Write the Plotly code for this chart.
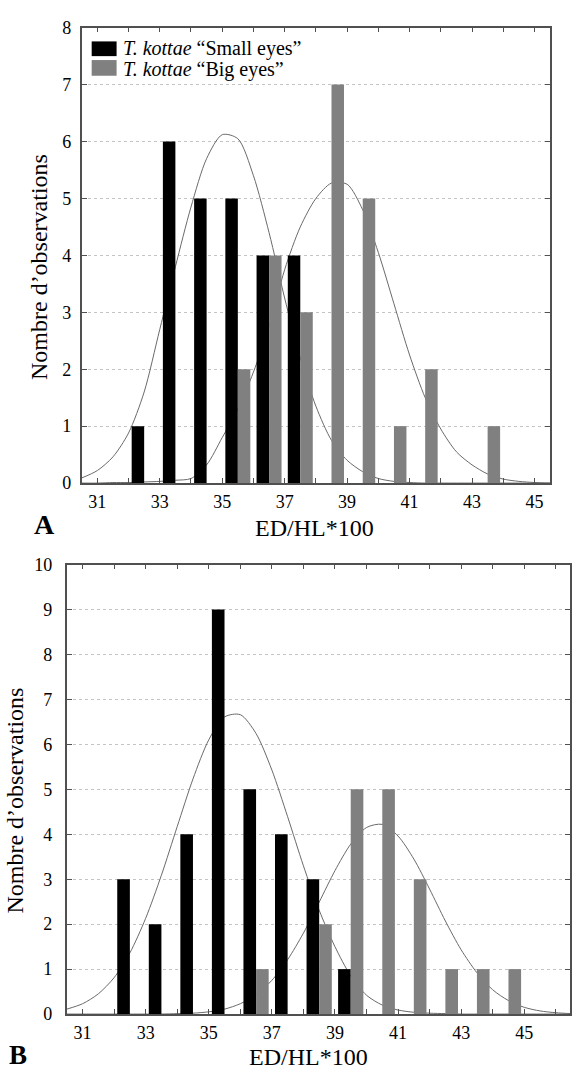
import plotly.graph_objects as go

# ---------------- data ----------------
A_bins = [32.5, 33.5, 34.5, 35.5, 36.5, 37.5, 38.5, 39.5, 40.5, 41.5, 42.5, 43.5]
A_small = [1, 6, 5, 5, 4, 4, 0, 0, 0, 0, 0, 0]
A_big = [0, 0, 0, 2, 4, 3, 7, 5, 1, 2, 0, 1]

B_bins = [32.5, 33.5, 34.5, 35.5, 36.5, 37.5, 38.5, 39.5, 40.5, 41.5, 42.5, 43.5, 44.5]
B_small = [3, 2, 4, 9, 5, 4, 3, 1, 0, 0, 0, 0, 0]
B_big = [0, 0, 0, 0, 1, 0, 2, 5, 5, 3, 1, 1, 1]

# fitted curves
A_curve_x = [30.5, 31, 31.5, 32, 32.5, 33, 33.5, 34, 34.5, 35, 35.5, 36, 36.5, 37, 37.5,
             38, 38.5, 39, 39.5, 40, 40.5, 41, 41.5, 42, 42.5, 43, 43.5, 44, 44.5, 45, 45.5]
A_small_curve = [0.09, 0.22, 0.46, 0.88, 1.6, 2.7, 3.8, 4.85, 5.7, 6.12, 6.05, 5.4, 4.4, 3.25, 2.2,
                 1.35, 0.75, 0.4, 0.2, 0.08, 0.03, 0.01, 0, 0, 0, 0, 0, 0, 0, 0, 0]
A_big_curve = [0, 0, 0.01, 0.01, 0.02, 0.03, 0.05, 0.08, 0.32, 0.8, 1.3, 1.95, 2.75, 3.75, 4.5,
               5.0, 5.27, 5.25, 4.8, 4.05, 3.15, 2.25, 1.5, 0.95, 0.55, 0.32, 0.16, 0.07, 0.03, 0.01, 0]

B_curve_x = [30.5, 31, 31.5, 32, 32.5, 33, 33.5, 34, 34.5, 35, 35.5, 36, 36.5, 37, 37.5, 38, 38.5,
             39, 39.5, 40, 40.5, 41, 41.5, 42, 42.5, 43, 43.5, 44, 44.5, 45, 45.5, 46, 46.5]
B_small_curve = [0.11, 0.23, 0.45, 0.81, 1.36, 2.13, 3.09, 4.17, 5.23, 6.1, 6.61, 6.66, 6.24, 5.43, 4.39,
                 3.3, 2.31, 1.5, 0.85, 0.42, 0.2, 0.09, 0.04, 0.02, 0.01, 0, 0, 0, 0, 0, 0, 0, 0]
B_big_curve = [0, 0, 0, 0, 0, 0, 0, 0.01, 0.02, 0.05, 0.11, 0.23, 0.43, 0.75, 1.21, 1.8, 2.49,
               3.19, 3.78, 4.15, 4.22, 3.96, 3.45, 2.78, 2.07, 1.43, 0.92, 0.54, 0.3, 0.15, 0.07, 0.03, 0.01]

series_names = ["T. kottae \u201cSmall eyes\u201d", "T. kottae \u201cBig eyes\u201d"]
x_title = "ED/HL*100"
y_title = "Nombre d\u2019observations"

# ---------------- style ----------------
W, H = 572, 1081
BLACK = "#000000"
GREY = "#808080"
CURVE = "#6a6a6a"
AXC = "#505050"
FONT = "Liberation Serif, Times New Roman, serif"


def px(v):
    return v / W


def py(v):
    return 1 - v / H


fig = go.Figure()

# curves (drawn on base axes, underneath the bars)
for xs, ys, xa, ya in [(A_curve_x, A_small_curve, "x", "y"), (A_curve_x, A_big_curve, "x", "y"),
                       (B_curve_x, B_small_curve, "x2", "y2"), (B_curve_x, B_big_curve, "x2", "y2")]:
    fig.add_trace(go.Scatter(x=xs, y=ys, xaxis=xa, yaxis=ya, mode="lines",
                             line=dict(color=CURVE, width=1, shape="spline", smoothing=0.8),
                             showlegend=False, hoverinfo="skip"))

# bars on overlaying axes so they sit above the curves
for bins, vals, col, off, xa, ya, name in [
        (A_bins, A_small, BLACK, -0.4, "x3", "y3", series_names[0]),
        (A_bins, A_big, GREY, 0.0, "x3", "y3", series_names[1]),
        (B_bins, B_small, BLACK, -0.4, "x4", "y4", series_names[0]),
        (B_bins, B_big, GREY, 0.0, "x4", "y4", series_names[1])]:
    fig.add_trace(go.Bar(x=bins, y=vals, width=0.4, offset=off, xaxis=xa, yaxis=ya,
                         marker=dict(color=col, line=dict(width=0)), name=name,
                         showlegend=False))

tickfont = dict(family=FONT, size=18, color="black")


def xax(domain, rng, anchor):
    return dict(domain=domain, range=rng, anchor=anchor, tickmode="linear", tick0=31, dtick=2,
                ticks="inside", ticklen=5, tickwidth=1.2, tickcolor=AXC, mirror="allticks",
                showline=True, linecolor=AXC, linewidth=1.6, showgrid=False, zeroline=False,
                tickfont=tickfont, ticklabelstandoff=2,
                minor=dict(tickmode="linear", tick0=31, dtick=1, ticks="inside", ticklen=5,
                           tickwidth=1.2, tickcolor=AXC, showgrid=False))


def yax(domain, rng, anchor, standoff):
    return dict(domain=domain, range=rng, anchor=anchor, tickmode="linear", tick0=0, dtick=1,
                ticks="inside", ticklen=5, tickwidth=1.2, tickcolor=AXC, mirror="allticks",
                showline=True, linecolor=AXC, linewidth=1.6, showgrid=True,
                gridcolor="#c4c4c4", gridwidth=1, griddash="dot", zeroline=False,
                tickfont=tickfont, ticklabelstandoff=standoff)


A_xdom = [px(82), px(552)]
A_ydom = [py(482), py(18)]
B_xdom = [px(67), 1.0]
B_ydom = [py(1023), py(565)]

fig.update_layout(
    width=W, height=H,
    margin=dict(l=0, r=0, t=0, b=0),
    paper_bgcolor="white", plot_bgcolor="white",
    barmode="overlay",
    showlegend=False,
    xaxis=xax(A_xdom, [30.5, 45.5], "y"),
    yaxis=yax(A_ydom, [0, 8], "x", 5),
    xaxis2=xax(B_xdom, [30.5, 46.45], "y2"),
    yaxis2=yax(B_ydom, [0, 10], "x2", 9),
    xaxis3=dict(overlaying="x", anchor="y3", range=[30.5, 45.5], visible=False),
    yaxis3=dict(overlaying="y", anchor="x3", range=[0, 8], visible=False),
    xaxis4=dict(overlaying="x2", anchor="y4", range=[30.5, 46.45], visible=False),
    yaxis4=dict(overlaying="y2", anchor="x4", range=[0, 10], visible=False),
)

ann = []
# legend
LEG_FS = 20
ann.append(dict(x=px(122), y=py(39), xref="paper", yref="paper", xanchor="left", yanchor="middle",
                text="<i>T. kottae</i> \u201cSmall eyes\u201d", showarrow=False, borderpad=0,
                font=dict(family=FONT, size=LEG_FS, color="black")))
ann.append(dict(x=px(122), y=py(61), xref="paper", yref="paper", xanchor="left", yanchor="middle",
                text="<i>T. kottae</i> \u201cBig eyes\u201d", showarrow=False, borderpad=0,
                font=dict(family=FONT, size=LEG_FS, color="black")))
fig.add_shape(type="rect", xref="paper", yref="paper", x0=px(92), x1=px(117), y0=py(47), y1=py(32),
              fillcolor=BLACK, line=dict(width=0))
fig.add_shape(type="rect", xref="paper", yref="paper", x0=px(92), x1=px(117), y0=py(67), y1=py(51),
              fillcolor=GREY, line=dict(width=0))

# axis titles
ann.append(dict(x=px(316), y=py(528), xref="paper", yref="paper", xanchor="center", yanchor="middle",
                text=x_title, showarrow=False, font=dict(family=FONT, size=24, color="black")))
ann.append(dict(x=px(310), y=0, xref="paper", yref="paper", xanchor="center", yanchor="bottom",
                text=x_title, showarrow=False, borderpad=0,
                font=dict(family=FONT, size=24, color="black")))
for x, y in [(39, 262), (15.5, 805)]:
    ann.append(dict(x=px(x), y=py(y), xref="paper", yref="paper", xanchor="center", yanchor="middle",
                    text=y_title, textangle=-90, showarrow=False,
                    font=dict(family=FONT, size=24, color="black")))
# panel letters
ann.append(dict(x=px(44.7), y=py(524), xref="paper", yref="paper", xanchor="center", yanchor="middle",
                text="<b>A</b>", showarrow=False, font=dict(family=FONT, size=28, color="black")))
ann.append(dict(x=px(18), y=0, xref="paper", yref="paper", xanchor="center", yanchor="bottom",
                text="<b>B</b>", showarrow=False, borderpad=0,
                font=dict(family=FONT, size=27, color="black")))

fig.update_layout(annotations=ann)

fig.write_html("out.html", config={"displayModeBar": False},
               post_script="document.body.style.margin='0px';")
